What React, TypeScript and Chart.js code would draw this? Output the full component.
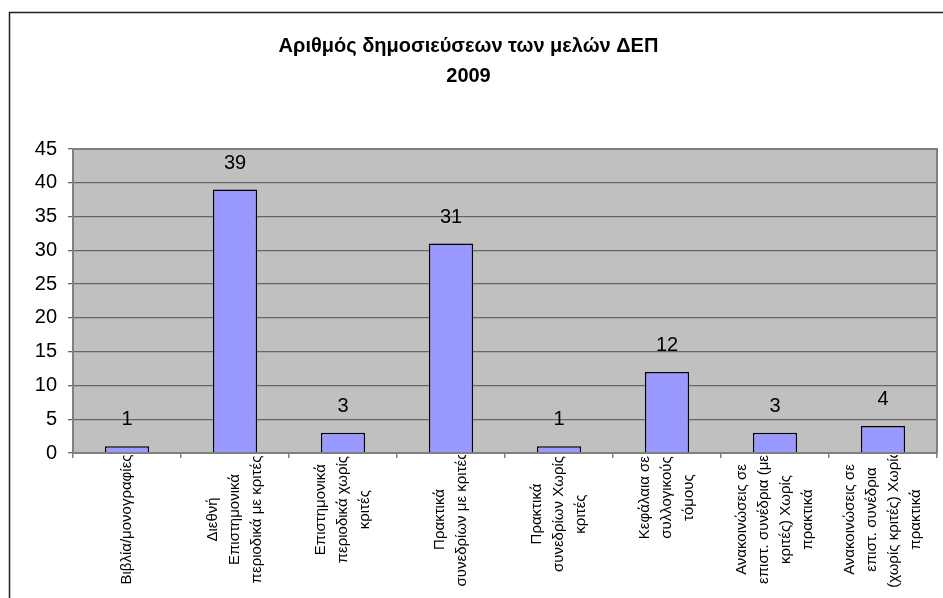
import { useEffect, useRef } from "react";
import { Chart, registerables } from "chart.js";

Chart.register(...registerables);

const titleLines: string[] = ["Αριθμός δημοσιεύσεων των μελών ΔΕΠ", "2009"];

const categories: string[][] = [
  ["Βιβλία/μονογραφίες"],
  ["Διεθνή", "Επιστημονικά", "περιοδικά με κριτές"],
  ["Επιστημονικά", "περιοδικά χωρίς", "κριτές"],
  ["Πρακτικά", "συνεδρίων με κριτές"],
  ["Πρακτικά", "συνεδρίων Χωρίς", "κριτές"],
  ["Κεφάλαια σε", "συλλογικούς", "τόμους"],
  ["Ανακοινώσεις σε", "επιστ. συνέδρια (με", "κριτές) Χωρίς", "πρακτικά"],
  ["Ανακοινώσεις σε", "επιστ. συνέδρια", "(χωρίς κριτές) Χωρίς", "πρακτικά"],
];

const values: number[] = [1, 39, 3, 31, 1, 12, 3, 4];

const yMin = 0;
const yMax = 45;
const yStep = 5;

const FONT = "'Liberation Sans', Arial, Helvetica, sans-serif";

const framePlugin = {
  id: "frame",
  beforeDraw(chart: any) {
    const { ctx, chartArea: a, width, height } = chart;
    ctx.save();
    ctx.fillStyle = "#ffffff";
    ctx.fillRect(0, 0, width, height);
    ctx.strokeStyle = "#222222";
    ctx.lineWidth = 1.5;
    ctx.strokeRect(9.5, 12.5, width + 40, height + 40);
    ctx.fillStyle = "#C0C0C0";
    ctx.fillRect(a.left, a.top, a.right - a.left, a.bottom - a.top);
    ctx.restore();
  },
  afterDatasetsDraw(chart: any) {
    const { ctx, chartArea: a } = chart;
    ctx.save();
    ctx.strokeStyle = "#808080";
    ctx.lineWidth = 2;
    ctx.strokeRect(a.left, a.top, a.right - a.left, a.bottom - a.top);
    const meta = chart.getDatasetMeta(0);
    ctx.fillStyle = "#000";
    ctx.font = `20px ${FONT}`;
    ctx.textAlign = "center";
    ctx.textBaseline = "alphabetic";
    meta.data.forEach((bar: any, i: number) => {
      const v = chart.data.datasets[0].data[i];
      ctx.fillText(String(v), bar.x, bar.y - 21);
    });
    ctx.restore();
  },
  afterDraw(chart: any) {
    const { ctx, width, height } = chart;
    const xs = chart.scales.x;
    const labels = chart.data.labels as string[][];
    ctx.save();
    ctx.beginPath();
    ctx.rect(0, xs.top + 2, width, height);
    ctx.clip();
    ctx.fillStyle = "#000";
    ctx.font = `15px ${FONT}`;
    ctx.textAlign = "center";
    ctx.textBaseline = "middle";
    const lineGap = 22;
    const top = xs.top + 3;
    const maxBlock = 127;
    labels.forEach((lines, i) => {
      const x = xs.getPixelForValue(i);
      let maxW = 0;
      lines.forEach((l) => {
        maxW = Math.max(maxW, ctx.measureText(l).width);
      });
      const yc = top + Math.min(maxW, maxBlock) / 2;
      const n = lines.length;
      lines.forEach((l, j) => {
        const dx = (j - (n - 1) / 2) * lineGap;
        ctx.save();
        ctx.translate(x + dx, yc);
        ctx.rotate(-Math.PI / 2);
        ctx.fillText(l, 0, 0);
        ctx.restore();
      });
    });
    ctx.restore();
  },
};

export default function App() {
  const ref = useRef<HTMLCanvasElement | null>(null);

  useEffect(() => {
    if (!ref.current) return;
    const chart = new Chart(ref.current, {
      type: "bar",
      data: {
        labels: categories,
        datasets: [
          {
            data: values,
            backgroundColor: "#9999FF",
            borderColor: "#000000",
            borderWidth: 1.5,
            barPercentage: 0.41,
            categoryPercentage: 1,
          },
        ],
      },
      options: {
        animation: false,
        responsive: true,
        maintainAspectRatio: false,
        layout: { padding: { left: 0, right: 6, top: 0, bottom: 0 } },
        plugins: {
          legend: { display: false },
          tooltip: { enabled: false },
          title: {
            display: true,
            text: titleLines,
            color: "#000",
            font: { family: FONT, size: 20, weight: "bold", lineHeight: 1.5 },
            padding: { top: 31, bottom: 58 },
          },
        },
        scales: {
          x: {
            ticks: { display: false },
            grid: {
              drawOnChartArea: false,
              drawTicks: true,
              tickLength: 5,
              color: "#808080",
              lineWidth: 1.5,
              offset: true,
            },
            border: { display: false },
            afterFit(scale: any) {
              scale.height = 145;
            },
          },
          y: {
            min: yMin,
            max: yMax,
            ticks: {
              stepSize: yStep,
              color: "#000",
              font: { family: FONT, size: 20 },
              padding: 11,
            },
            grid: {
              color: "#666666",
              lineWidth: 1.3,
              tickLength: 5,
              drawTicks: true,
            },
            border: { display: false },
            afterFit(scale: any) {
              scale.width = 73;
            },
          },
        },
      },
      plugins: [framePlugin],
    });
    return () => chart.destroy();
  }, []);

  return (
    <div style={{ position: "fixed", left: 0, top: 0, width: 943, height: 598 }}>
      <canvas ref={ref} />
    </div>
  );
}
